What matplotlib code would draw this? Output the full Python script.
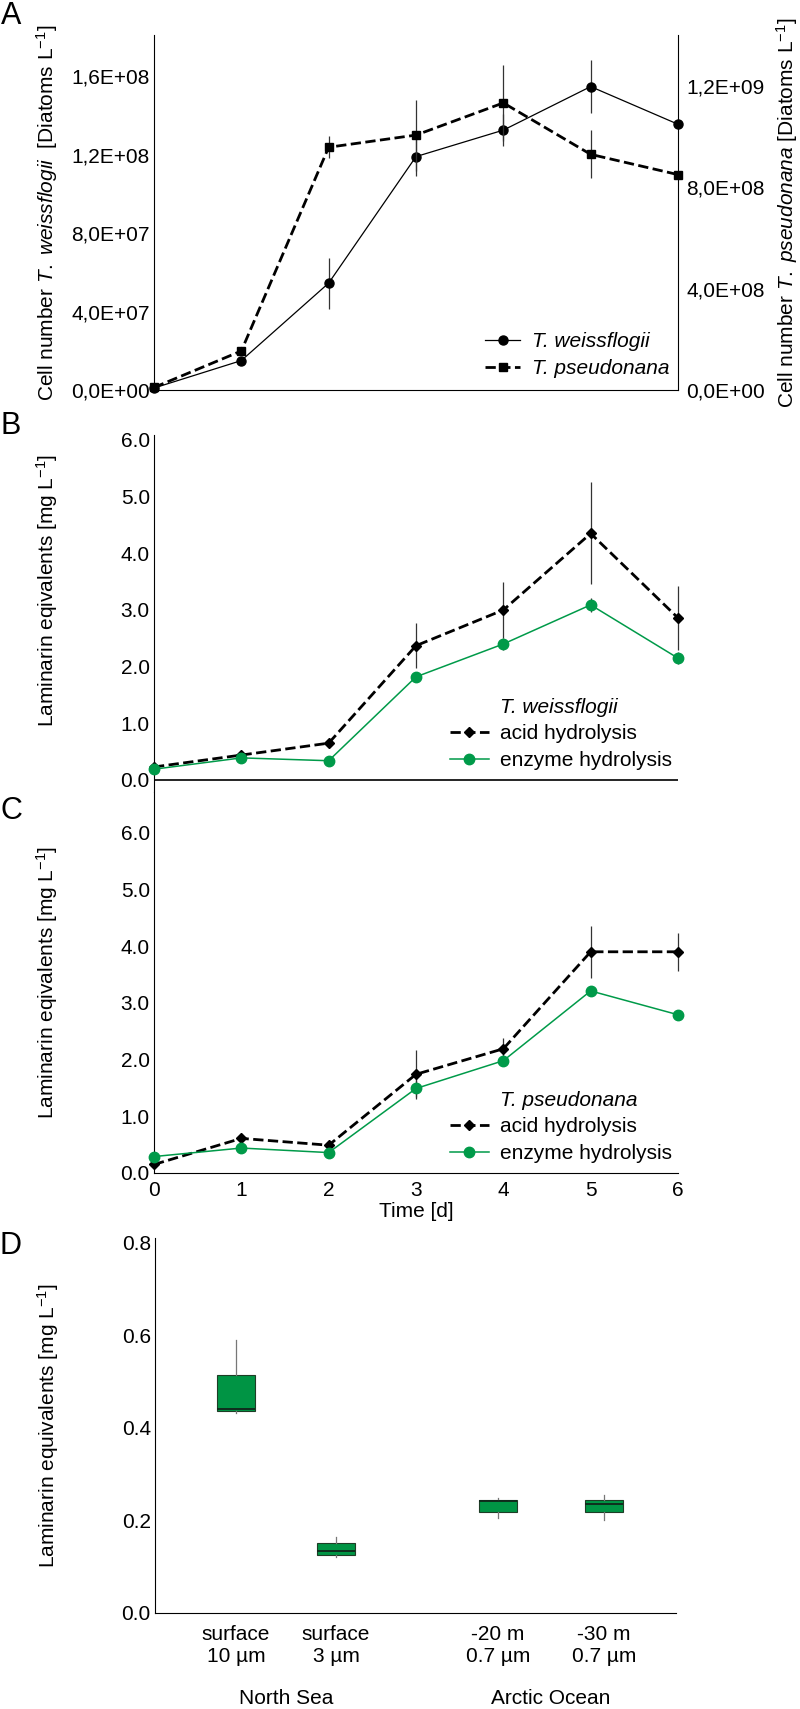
import matplotlib
matplotlib.use("Agg")
import matplotlib.pyplot as plt
from matplotlib.transforms import blended_transform_factory

plt.rcParams['font.family'] = ['Liberation Sans', 'DejaVu Sans']
plt.rcParams['mathtext.fontset'] = 'custom'
plt.rcParams['mathtext.rm'] = 'Liberation Sans'
plt.rcParams['mathtext.it'] = 'Liberation Sans:italic'

# ---- data ----
days = [0, 1, 2, 3, 4, 5, 6]

# panel A: cell numbers
weiss_cells = [1.0e6, 1.5e7, 5.45e7, 1.19e8, 1.325e8, 1.547e8, 1.355e8]
weiss_cells_err = [0, 0, 1.3e7, 1.0e7, 0.8e7, 1.36e7, 0]
pseudo_cells = [1.0e7, 1.54e8, 9.58e8, 1.006e9, 1.133e9, 9.3e8, 8.5e8]
pseudo_cells_err = [0, 0, 4.4e7, 1.4e8, 1.5e8, 9.5e7, 0]
left_ticks = [0, 4e7, 8e7, 1.2e8, 1.6e8]
right_ticks = [0, 4e8, 8e8, 1.2e9]

# panel B: T. weissflogii laminarin
weiss_acid = [0.23, 0.44, 0.65, 2.37, 3.00, 4.35, 2.86]
weiss_acid_err = [0, 0.08, 0, 0.40, 0.50, 0.90, 0.56]
weiss_enz = [0.19, 0.39, 0.34, 1.82, 2.40, 3.09, 2.15]
weiss_enz_err = [0, 0.08, 0, 0.08, 0.10, 0.13, 0.10]

# panel C: T. pseudonana laminarin
pseudo_acid = [0.15, 0.61, 0.49, 1.74, 2.19, 3.90, 3.90]
pseudo_acid_err = [0, 0.05, 0, 0.43, 0.19, 0.46, 0.33]
pseudo_enz = [0.29, 0.44, 0.36, 1.49, 1.98, 3.21, 2.79]
pseudo_enz_err = [0, 0, 0, 0.15, 0.10, 0.05, 0.07]
lam_ticks = [0, 1, 2, 3, 4, 5, 6]

# panel D: field samples (box plot stats)
site_labels = ["surface\n10 µm", "surface\n3 µm", "-20 m\n0.7 µm", "-30 m\n0.7 µm"]
box_q1 = [0.436, 0.126, 0.219, 0.219]
box_med = [0.441, 0.133, 0.241, 0.235]
box_q3 = [0.515, 0.151, 0.245, 0.244]
box_lo = [0.431, 0.121, 0.205, 0.201]
box_hi = [0.589, 0.165, 0.249, 0.254]
regions = ["North Sea", "Arctic Ocean"]
field_ticks = [0.0, 0.2, 0.4, 0.6, 0.8]

GREEN = '#009a49'
BOXGREEN = '#009444'
FS = 15

W, H = 800, 1709
fig = plt.figure(figsize=(W / 100, H / 100), dpi=100)


def px_axes(left, top, right, bottom):
    return fig.add_axes([left / W, 1 - bottom / H, (right - left) / W, (bottom - top) / H])


def sci_comma(v):
    return f"{v:.1E}".replace(".", ",")


# ---------------- A ----------------
ax_a = px_axes(154, 35, 678, 390)
ax_a2 = ax_a.twinx()
ax_a.errorbar(days, weiss_cells, yerr=weiss_cells_err, fmt='none', ecolor='#333333',
              elinewidth=0.9, capsize=0, clip_on=False)
l1, = ax_a.plot(days, weiss_cells, '-o', color='black', lw=0.9, ms=6.5, clip_on=False)
ax_a2.errorbar(days, pseudo_cells, yerr=pseudo_cells_err, fmt='none', ecolor='#333333',
               elinewidth=0.9, capsize=0, clip_on=False)
l2, = ax_a2.plot(days, pseudo_cells, '--s', color='black', lw=2.0, ms=6, clip_on=False)
ax_a.set_xlim(0, 6)
ax_a.set_ylim(0, 1.81e8)
ax_a2.set_ylim(0, 1.401e9)
ax_a.set_yticks(left_ticks)
ax_a.set_yticklabels([sci_comma(v) for v in left_ticks], fontsize=FS)
ax_a2.set_yticks(right_ticks)
ax_a2.set_yticklabels([sci_comma(v) for v in right_ticks], fontsize=FS)
ax_a.set_xticks([])
ax_a.tick_params(length=0, pad=3)
ax_a2.tick_params(length=0, pad=6)
for s in ['top', 'right']:
    ax_a.spines[s].set_visible(False)
for s in ['top', 'left', 'bottom']:
    ax_a2.spines[s].set_visible(False)
ax_a.set_ylabel(r"Cell number $\it{T.\ weissflogii}$  [Diatoms L$^{-1}$]", fontsize=FS)
ax_a.yaxis.set_label_coords(-0.18, 0.5)
ax_a2.set_ylabel(r"Cell number $\it{T.\ pseudonana}$ [Diatoms L$^{-1}$]", fontsize=FS, rotation=90)
ax_a2.yaxis.set_label_coords(1.184, 0.5)
fig.legend([l1, l2], ["T. weissflogii", "T. pseudonana"], loc='upper left',
           bbox_to_anchor=(485 / W, 1 - 332 / H), frameon=False, borderpad=0,
           borderaxespad=0, handlelength=1.7, handletextpad=0.55, labelspacing=0.4,
           prop={'style': 'italic', 'size': FS})


def lam_panel(ax, acid, acid_err, enz, enz_err):
    ax.errorbar(days, acid, yerr=acid_err, fmt='none', ecolor='#333333',
                elinewidth=0.9, capsize=0, clip_on=False)
    ax.errorbar(days, enz, yerr=enz_err, fmt='none', ecolor='#333333',
                elinewidth=0.9, capsize=0, clip_on=False)
    la, = ax.plot(days, acid, '--D', color='black', lw=2.0, ms=5, clip_on=False, zorder=3)
    le, = ax.plot(days, enz, '-o', color=GREEN, lw=1.1, ms=7.5, clip_on=False, zorder=4)
    ax.set_xlim(0, 6)
    ax.set_yticks(lam_ticks)
    ax.set_yticklabels([f"{v:.1f}" for v in lam_ticks], fontsize=FS)
    ax.tick_params(length=0, pad=3)
    ax.spines['top'].set_visible(False)
    ax.spines['right'].set_visible(False)
    ax.set_ylabel(r"Laminarin eqivalents [mg L$^{-1}$]", fontsize=FS)
    return la, le


def lam_legend(title, title_y, la, le):
    fig.text(500 / W, 1 - title_y / H, title, fontsize=FS, style='italic', va='center')
    fig.legend([la, le], ["acid hydrolysis", "enzyme hydrolysis"], loc='upper left',
               bbox_to_anchor=(450 / W, 1 - (title_y + 16) / H), frameon=False, borderpad=0,
               borderaxespad=0, handlelength=1.85, handletextpad=0.55, labelspacing=0.4,
               fontsize=FS)


# ---------------- B ----------------
ax_b = px_axes(154, 435, 678, 792)
la, le = lam_panel(ax_b, weiss_acid, weiss_acid_err, weiss_enz, weiss_enz_err)
ax_b.set_ylim(-0.212, 6.088)
ax_b.spines['bottom'].set_visible(False)
ax_b.axhline(0, color='black', lw=1.2, zorder=1)
ax_b.set_xticks([])
ax_b.yaxis.set_label_coords(-0.18, 0.565)
lam_legend("T. weissflogii", 708, la, le)

# ---------------- C ----------------
ax_c = px_axes(154, 792, 678, 1173)
la, le = lam_panel(ax_c, pseudo_acid, pseudo_acid_err, pseudo_enz, pseudo_enz_err)
ax_c.set_ylim(0, 6.717)
ax_c.set_xticks(days)
ax_c.set_xticklabels([str(d) for d in days], fontsize=FS)
ax_c.tick_params(axis='x', pad=6)
ax_c.set_xlabel("Time [d]", fontsize=FS, labelpad=1)
ax_c.yaxis.set_label_coords(-0.18, 0.5)
lam_legend("T. pseudonana", 1101, la, le)

# ---------------- D ----------------
ax_d = px_axes(155, 1238, 676, 1613)
box_pos = [0.81, 1.81, 3.43, 4.49]
stats = [dict(med=m, q1=a, q3=b, whislo=lo, whishi=hi, fliers=[])
         for m, a, b, lo, hi in zip(box_med, box_q1, box_q3, box_lo, box_hi)]
ax_d.bxp(stats, positions=box_pos, widths=0.38, patch_artist=True, showcaps=False,
         showfliers=False,
         boxprops=dict(facecolor=BOXGREEN, edgecolor='#1e3d26', lw=0.8),
         medianprops=dict(color='#10261a', lw=1.3),
         whiskerprops=dict(color='#777777', lw=0.9))
ax_d.set_xlim(0, 5.21)
ax_d.set_ylim(0, 0.81)
ax_d.set_yticks(field_ticks)
ax_d.set_yticklabels([f"{v:.1f}" for v in field_ticks], fontsize=FS)
ax_d.set_xticks(box_pos)
ax_d.set_xticklabels(site_labels, fontsize=FS, linespacing=1.15)
ax_d.tick_params(length=0, pad=3)
ax_d.tick_params(axis='x', pad=9)
ax_d.spines['top'].set_visible(False)
ax_d.spines['right'].set_visible(False)
ax_d.set_ylabel(r"Laminarin equivalents [mg L$^{-1}$]", fontsize=FS)
ax_d.yaxis.set_label_coords(-0.181, 0.5)
tr = blended_transform_factory(ax_d.transData, fig.transFigure)
ax_d.text((box_pos[0] + box_pos[1]) / 2, 1 - 1698 / H, regions[0], transform=tr,
          fontsize=FS, ha='center', va='center')
ax_d.text((box_pos[2] + box_pos[3]) / 2, 1 - 1698 / H, regions[1], transform=tr,
          fontsize=FS, ha='center', va='center')

# panel letters
for letter, y in zip("ABCD", [16, 426, 811, 1246]):
    fig.text(11 / W, 1 - y / H, letter, fontsize=22, ha='center', va='center')

fig.savefig("out.png", dpi=100)
